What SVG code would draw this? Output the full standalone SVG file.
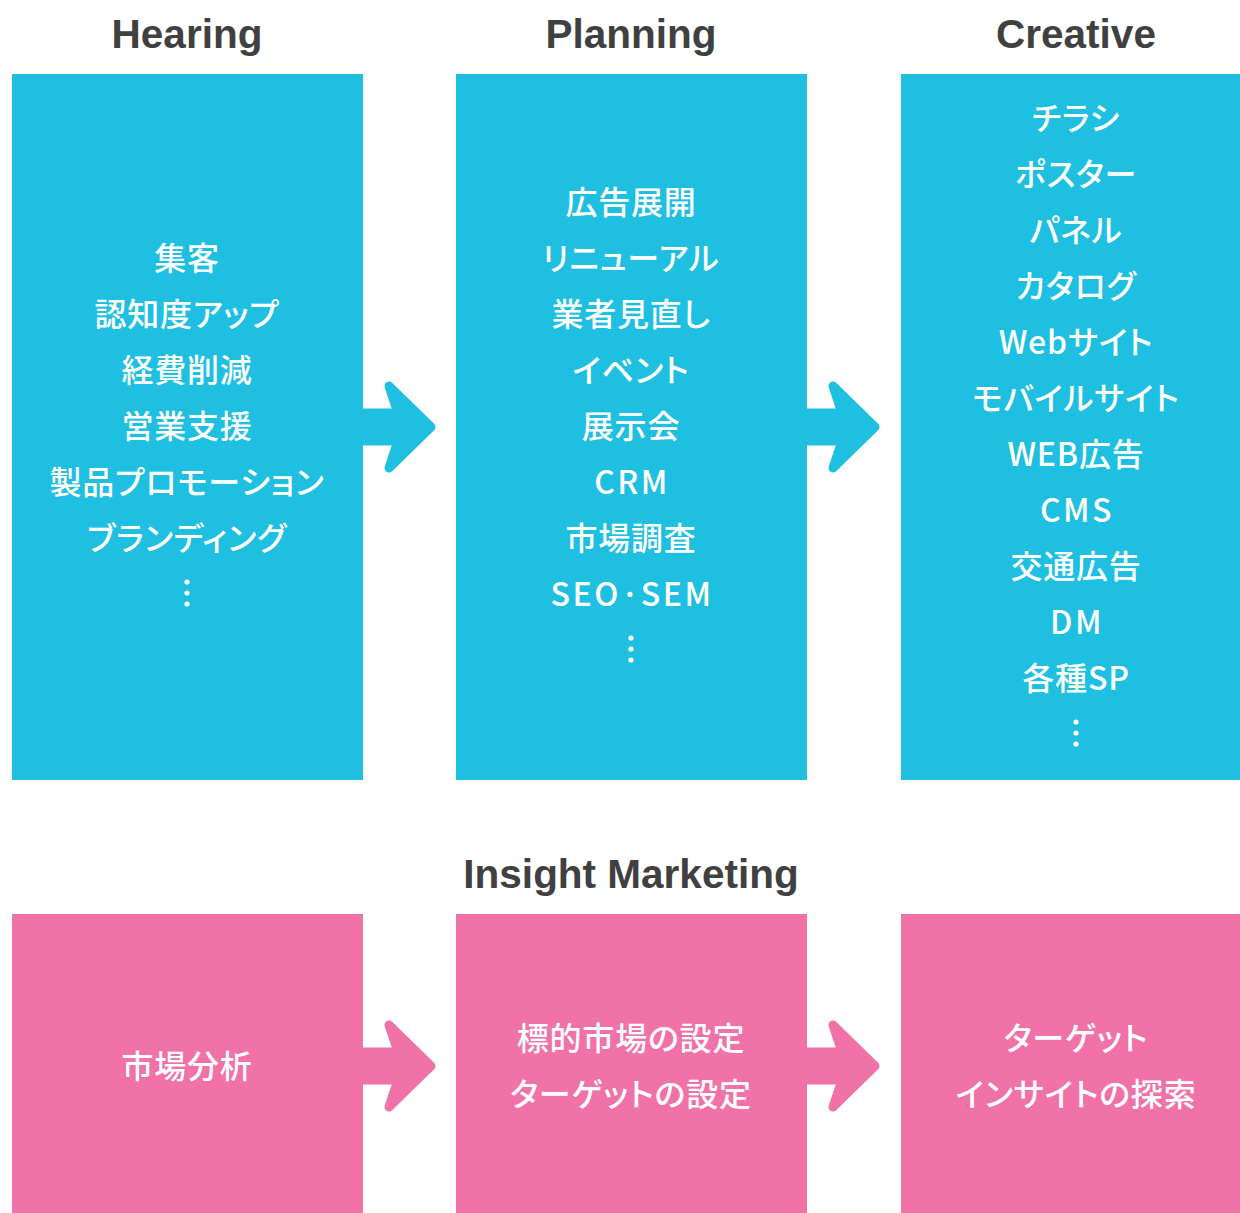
<svg xmlns="http://www.w3.org/2000/svg" width="1240" height="1213" viewBox="0 0 1240 1213">
<style>
.title{font-family:"Liberation Sans",Arial,sans-serif;font-weight:bold;font-size:40.5px;fill:#404040;text-anchor:middle}
.t{font-family:"Noto Sans CJK JP","Liberation Sans",sans-serif;font-weight:500;font-size:32px;fill:#fff;text-anchor:middle;letter-spacing:0.8px;font-feature-settings:"palt"}
.lat{letter-spacing:2.5px}
.blue{fill:#1EBFE0}
.pink{fill:#F072A8}
.ab{fill:#1EBFE0;stroke:#1EBFE0;stroke-width:9;stroke-linejoin:round}
.ap{fill:#F072A8;stroke:#F072A8;stroke-width:9;stroke-linejoin:round}
.dot{fill:#fff}
</style>
<defs>
<g id="arrow">
<rect x="0" y="-14" width="38" height="28"/>
<polygon points="26,-41 68,0 26,41 35,14 35,-14"/>
</g>
</defs>
<text class="title" x="187" y="48">Hearing</text>
<text class="title" x="631" y="48">Planning</text>
<text class="title" x="1076" y="48">Creative</text>
<text class="title" x="631" y="888">Insight Marketing</text>

<g id="hearing">
<rect class="blue" x="12" y="74" width="351" height="706"/>
<text class="t" x="187" y="270">集客</text>
<text class="t" x="187" y="326">認知度アップ</text>
<text class="t" x="187" y="382">経費削減</text>
<text class="t" x="187" y="438">営業支援</text>
<text class="t" x="187" y="494">製品プロモーション</text>
<text class="t" x="187" y="550">ブランディング</text>
<circle class="dot" cx="187" cy="582" r="2.6"/><circle class="dot" cx="187" cy="593" r="2.6"/><circle class="dot" cx="187" cy="604" r="2.6"/>
</g>

<g id="planning">
<rect class="blue" x="456" y="74" width="351" height="706"/>
<text class="t" x="631" y="214">広告展開</text>
<text class="t" x="631" y="270">リニューアル</text>
<text class="t" x="631" y="326">業者見直し</text>
<text class="t" x="631" y="382">イベント</text>
<text class="t" x="631" y="438">展示会</text>
<text class="t lat" x="632" y="494">CRM</text>
<text class="t" x="631" y="550">市場調査</text>
<text class="t lat" x="632" y="606">SEO·SEM</text>
<circle class="dot" cx="631" cy="638" r="2.6"/><circle class="dot" cx="631" cy="649" r="2.6"/><circle class="dot" cx="631" cy="660" r="2.6"/>
</g>

<g id="creative">
<rect class="blue" x="901" y="74" width="351" height="706"/>
<text class="t" x="1076" y="130">チラシ</text>
<text class="t" x="1076" y="186">ポスター</text>
<text class="t" x="1076" y="242">パネル</text>
<text class="t" x="1076" y="298">カタログ</text>
<text class="t" x="1076" y="354">Webサイト</text>
<text class="t" x="1076" y="410">モバイルサイト</text>
<text class="t" x="1076" y="466">WEB広告</text>
<text class="t lat" x="1077" y="522">CMS</text>
<text class="t" x="1076" y="578">交通広告</text>
<text class="t lat" x="1077" y="634">DM</text>
<text class="t" x="1076" y="690">各種SP</text>
<circle class="dot" cx="1076" cy="722" r="2.6"/><circle class="dot" cx="1076" cy="733" r="2.6"/><circle class="dot" cx="1076" cy="744" r="2.6"/>
</g>

<g id="analysis">
<rect class="pink" x="12" y="914" width="351" height="300"/>
<text class="t" x="187" y="1078">市場分析</text>
</g>
<g id="targeting">
<rect class="pink" x="456" y="914" width="351" height="300"/>
<text class="t" x="631" y="1050">標的市場の設定</text>
<text class="t" x="631" y="1106">ターゲットの設定</text>
</g>
<g id="insight">
<rect class="pink" x="901" y="914" width="351" height="300"/>
<text class="t" x="1076" y="1050">ターゲット</text>
<text class="t" x="1076" y="1106">インサイトの探索</text>
</g>

<g id="connectors">
<use href="#arrow" class="ab" x="363" y="427"/>
<use href="#arrow" class="ab" x="807" y="427"/>
<use href="#arrow" class="ap" x="363" y="1066"/>
<use href="#arrow" class="ap" x="807" y="1066"/>
</g>
</svg>
